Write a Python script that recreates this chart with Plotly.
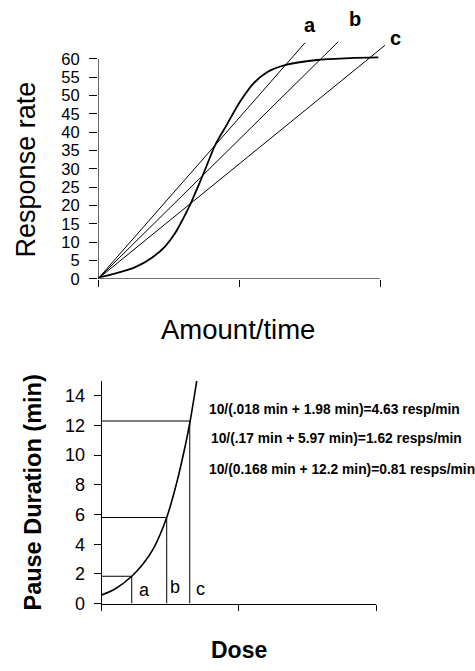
import plotly.graph_objects as go

W, H = 475, 671

# ---- Top panel data ----
sig_x = [0, 0.12, 0.26, 0.38, 0.475, 0.546, 0.605, 0.657, 0.712, 0.747, 0.794, 0.835,
         0.913, 1.007, 1.10, 1.196, 1.326, 1.55, 1.787, 1.988]
sig_y = [0.3, 1.4, 3.1, 5.7, 8.8, 12.4, 16.5, 20.5, 25.4, 28.6, 33.1, 36.8,
         42.0, 48.3, 53.2, 56.3, 58.3, 59.7, 60.2, 60.4]
ray_names = ["a", "b", "c"]
ray_end_x = [1.468, 1.704, 2.035]
ray_end_y = [64.4, 64.7, 63.7]
top_yticks = list(range(0, 61, 5))
top_xticks = [0, 1, 2]

# ---- Bottom panel data ----
pause_x = [0, 0.1, 0.219, 0.304, 0.377, 0.474, 0.547, 0.608, 0.645, 0.693]
pause_y = [0.58, 1.0, 1.84, 2.7, 3.7, 5.8, 8.14, 10.58, 12.3, 15.0]
dose_names = ["a", "b", "c"]
dose_x = [0.219, 0.474, 0.642]
dose_y = [1.84, 5.8, 12.3]
bottom_yticks = list(range(0, 15, 2))
bottom_xticks = [0, 1, 2]
formulas = [
    "10/(.018 min + 1.98 min)=4.63 resp/min",
    "10/(.17 min + 5.97 min)=1.62 resps/min",
    "10/(0.168 min + 12.2 min)=0.81 resps/min",
]

FONT = "Liberation Sans, Arial, sans-serif"


def px(x):
    return x / W


def py(y):
    return 1 - y / H


fig = go.Figure()

# top sigmoid
fig.add_trace(go.Scatter(x=sig_x, y=sig_y, mode="lines",
                         line=dict(color="black", width=1.8, shape="spline", smoothing=0.9),
                         xaxis="x", yaxis="y", showlegend=False, hoverinfo="skip"))
# rays from origin
for nm, ex, ey in zip(ray_names, ray_end_x, ray_end_y):
    fig.add_trace(go.Scatter(x=[0, ex], y=[0, ey], mode="lines", line=dict(color="black", width=1),
                             xaxis="x", yaxis="y", showlegend=False, hoverinfo="skip"))

# bottom curve
fig.add_trace(go.Scatter(x=pause_x, y=pause_y, mode="lines",
                         line=dict(color="black", width=1.6, shape="spline", smoothing=0.8),
                         xaxis="x2", yaxis="y2", showlegend=False, hoverinfo="skip", cliponaxis=False))
for dx, dy in zip(dose_x, dose_y):
    fig.add_trace(go.Scatter(x=[0, dx, dx], y=[dy, dy, 0], mode="lines", line=dict(color="black", width=1),
                             xaxis="x2", yaxis="y2", showlegend=False, hoverinfo="skip"))

annotations = []


def ann(text, x, y, size, xanchor="center", angle=0):
    annotations.append(dict(text=text, x=px(x), y=py(y), xref="paper", yref="paper",
                            xanchor=xanchor, yanchor="middle", textangle=angle,
                            showarrow=False, font=dict(family=FONT, size=size, color="black")))


# ray labels
ray_label_pos = [(310, 25), (355, 19), (395, 39)]
for nm, (lx, ly) in zip(ray_names, ray_label_pos):
    ann(f"<b>{nm}</b>", lx, ly, 20)
# dose labels
dose_label_pos = [(144, 599), (175, 596), (200, 598)]
for nm, (lx, ly) in zip(dose_names, dose_label_pos):
    ann(nm, lx, ly, 18)
# formulas
form_pos = [(207, 415.7), (209, 445), (207, 476.7)]
for t, (lx, ly) in zip(formulas, form_pos):
    ann(f"<b>{t}</b>", lx, ly, 13.8, xanchor="left")
# titles
ann("Response rate", 26, 172, 27, angle=-90)
ann("Amount/time", 238, 334, 27.5)
ann("<b>Pause Duration (min)</b>", 33, 500, 23.5, angle=-90)
ann("<b>Dose</b>", 239, 660, 23)

shapes = [
    dict(type="line", xref="x", yref="y", x0=0, y0=0, x1=2, y1=0, line=dict(color="black", width=1.2)),
    dict(type="line", xref="x", yref="y", x0=0, y0=0, x1=0, y1=60, line=dict(color="black", width=1.2)),
]

top_tickfont = dict(family=FONT, size=16.5, color="black")
bottom_tickfont = dict(family=FONT, size=18, color="black")

fig.update_layout(
    width=W, height=H, margin=dict(l=0, r=0, t=0, b=0),
    paper_bgcolor="white", plot_bgcolor="white",
    showlegend=False,
    xaxis=dict(domain=[px(98), px(98 + 2.3 * 141)], range=[0, 2.3], tickvals=top_xticks, ticks="outside",
               ticklen=7, tickcolor="black", showticklabels=False, showgrid=False, zeroline=False,
               showline=False, anchor="y", fixedrange=True),
    yaxis=dict(domain=[py(283), py(283 - 70 * 3.72)], range=[0, 70], tickvals=top_yticks, ticks="outside",
               ticklen=8, tickcolor="black", tickfont=top_tickfont, showgrid=False, zeroline=False,
               showline=False, anchor="x", ticklabelstandoff=6, fixedrange=True),
    xaxis2=dict(domain=[px(101.7), px(376)], range=[0, 2], tickvals=bottom_xticks, ticks="outside",
                ticklen=6, tickcolor="black", showticklabels=False, showgrid=False, zeroline=False,
                showline=True, linecolor="black", linewidth=1.2, anchor="y2", fixedrange=True),
    yaxis2=dict(domain=[py(612.7), py(386.7)], range=[0, 15], tickvals=bottom_yticks, ticks="outside",
                ticklen=7, tickcolor="black", tickfont=bottom_tickfont, showgrid=False, zeroline=False,
                showline=True, linecolor="black", linewidth=1.2, anchor="x2", ticklabelstandoff=5,
                fixedrange=True),
    annotations=annotations,
    shapes=shapes,
)

fig.write_html("out.html", config={"displayModeBar": False},
               post_script="document.body.style.margin='0';document.body.style.overflow='hidden';")
